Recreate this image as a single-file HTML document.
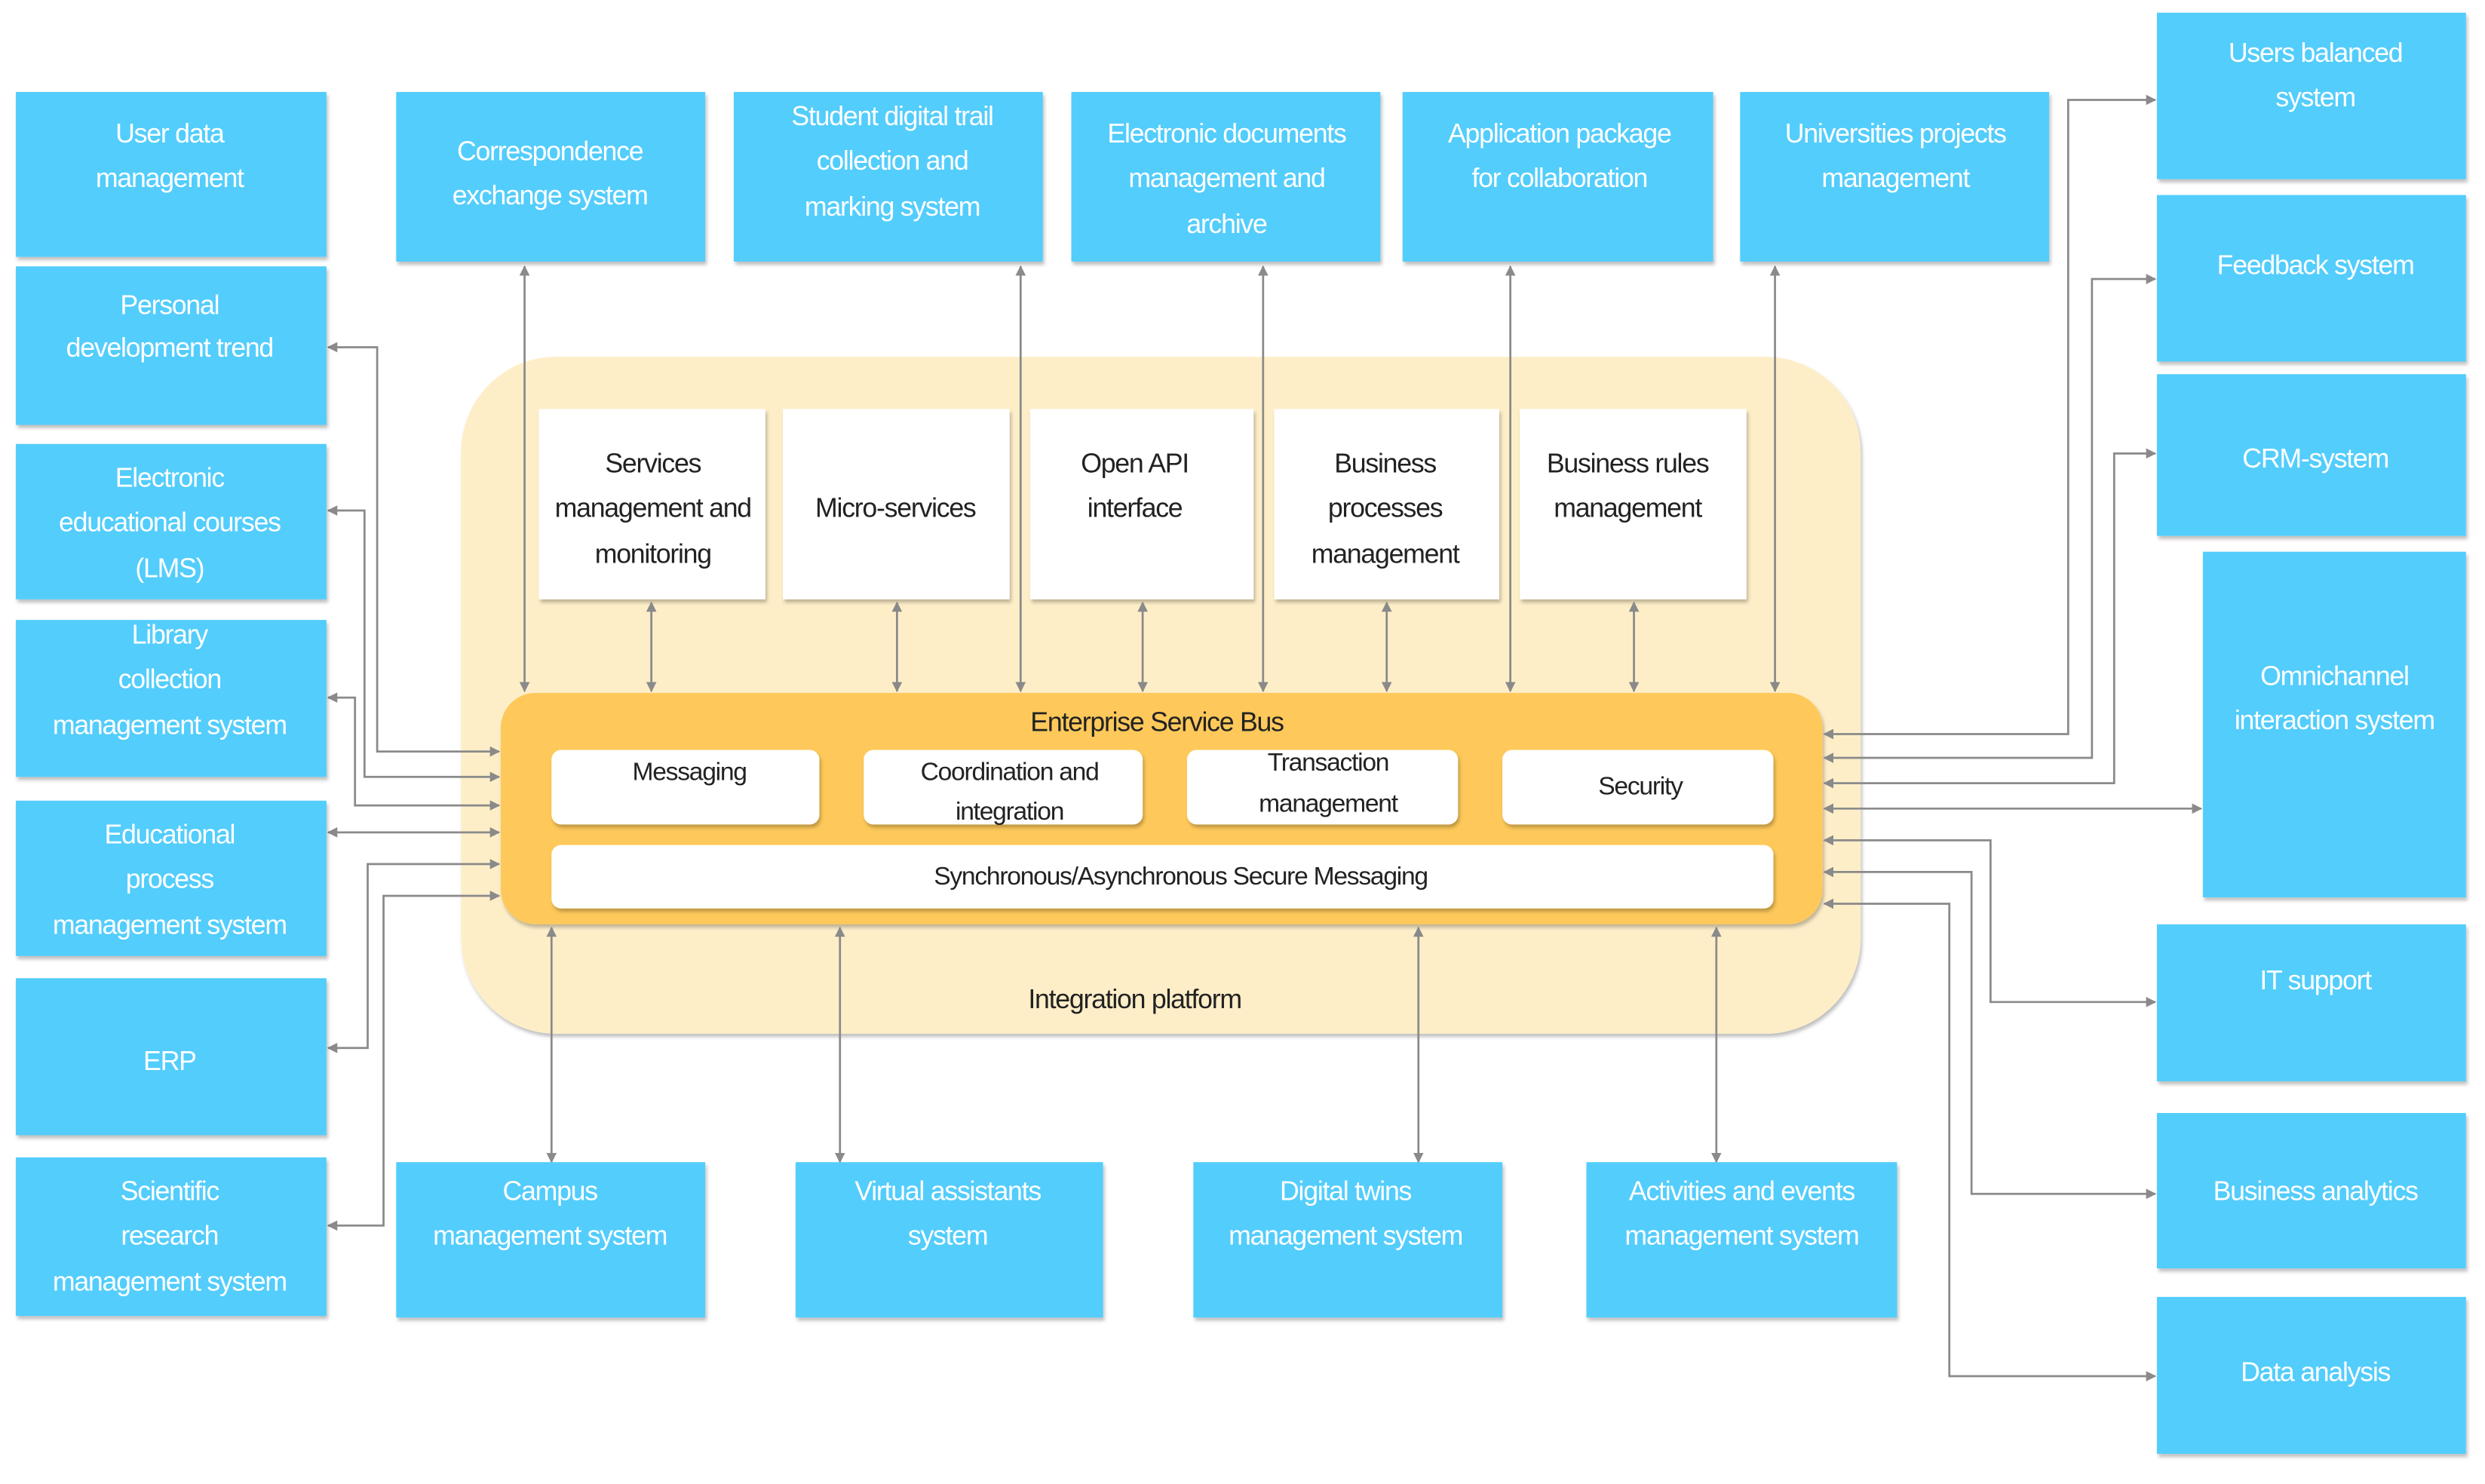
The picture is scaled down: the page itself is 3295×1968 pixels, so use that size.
<!DOCTYPE html>
<html><head><meta charset="utf-8"><style>
html,body{margin:0;padding:0;background:#fff}
svg{display:block}
text{font-family:"Liberation Sans",sans-serif}
.b{fill:#53cdfc}
.bt{fill:#fff;font-size:17px;text-anchor:middle;letter-spacing:-0.6px}
.dt{fill:#222;font-size:17px;text-anchor:middle;letter-spacing:-0.6px}
.st{fill:#222;font-size:16px;text-anchor:middle;letter-spacing:-0.6px}
.l{stroke:#8a8a8a;stroke-width:1.3;fill:none}
</style></head><body>
<svg width="3295" height="1968" viewBox="0 0 1568 936" preserveAspectRatio="none" xmlns="http://www.w3.org/2000/svg">
<defs>
<marker id="a" viewBox="0 0 10 10" refX="9" refY="5" markerWidth="5" markerHeight="5" orient="auto-start-reverse"><path d="M0,0 L10,5 L0,10 z" fill="#8a8a8a"/></marker>
<filter id="sh" x="-5%" y="-5%" width="110%" height="115%"><feDropShadow dx="1" dy="2" stdDeviation="1.2" flood-color="#000" flood-opacity="0.25"/></filter>
</defs>
<rect width="1568" height="936" fill="#fff"/>
<!-- integration platform -->
<rect x="291" y="225" width="883" height="427" rx="60" fill="#feeec8" filter="url(#sh)"/>
<text x="716" y="636" class="dt">Integration platform</text>
<!-- white service boxes -->
<g filter="url(#sh)" fill="#fff">
<rect x="340" y="258" width="143" height="120"/><rect x="494" y="258" width="143" height="120"/>
<rect x="650" y="258" width="141" height="120"/><rect x="804" y="258" width="142" height="120"/>
<rect x="959" y="258" width="143" height="120"/>
</g>
<text class="dt"><tspan x="412" y="298">Services</tspan><tspan x="412" y="326">management and</tspan><tspan x="412" y="355">monitoring</tspan></text>
<text class="dt" x="565" y="326">Micro-services</text>
<text class="dt"><tspan x="716" y="298">Open API</tspan><tspan x="716" y="326">interface</tspan></text>
<text class="dt"><tspan x="874" y="298">Business</tspan><tspan x="874" y="326">processes</tspan><tspan x="874" y="355">management</tspan></text>
<text class="dt"><tspan x="1027" y="298">Business rules</tspan><tspan x="1027" y="326">management</tspan></text>
<!-- ESB -->
<rect x="316" y="437" width="834" height="146" rx="22" fill="#fec95a" filter="url(#sh)"/>
<text class="dt" x="730" y="461">Enterprise Service Bus</text>
<g fill="#fff" filter="url(#sh)">
<rect x="348" y="473" width="169" height="47" rx="6"/><rect x="545" y="473" width="176" height="47" rx="6"/>
<rect x="749" y="473" width="171" height="47" rx="6"/><rect x="948" y="473" width="171" height="47" rx="6"/>
<rect x="348" y="533" width="771" height="40" rx="6"/>
</g>
<text class="st" x="435" y="492">Messaging</text>
<text class="st"><tspan x="637" y="492">Coordination and</tspan><tspan x="637" y="517">integration</tspan></text>
<text class="st"><tspan x="838" y="486">Transaction</tspan><tspan x="838" y="512">management</tspan></text>
<text class="st" x="1035" y="501">Security</text>
<text class="st" x="745" y="558">Synchronous/Asynchronous Secure Messaging</text>
<!-- connectors -->
<g class="l" marker-start="url(#a)" marker-end="url(#a)">
<line x1="331" y1="168" x2="331" y2="436"/><line x1="644" y1="168" x2="644" y2="436"/>
<line x1="797" y1="168" x2="797" y2="436"/><line x1="953" y1="168" x2="953" y2="436"/>
<line x1="1120" y1="168" x2="1120" y2="436"/>
<line x1="411" y1="380" x2="411" y2="436"/><line x1="566" y1="380" x2="566" y2="436"/>
<line x1="721" y1="380" x2="721" y2="436"/><line x1="875" y1="380" x2="875" y2="436"/>
<line x1="1031" y1="380" x2="1031" y2="436"/>
<line x1="348" y1="585" x2="348" y2="733"/><line x1="530" y1="585" x2="530" y2="733"/>
<line x1="895" y1="585" x2="895" y2="733"/><line x1="1083" y1="585" x2="1083" y2="733"/>
<polyline points="207,219 238,219 238,474 315,474"/>
<polyline points="207,322 230,322 230,490 315,490"/>
<polyline points="207,440 224,440 224,508 315,508"/>
<polyline points="207,525 315,525"/>
<polyline points="207,661 232,661 232,545 315,545"/>
<polyline points="207,773 242,773 242,565 315,565"/>
<polyline points="1360,63 1305,63 1305,463 1151,463"/>
<polyline points="1360,176 1320,176 1320,478 1151,478"/>
<polyline points="1360,286 1334,286 1334,494 1151,494"/>
<polyline points="1389,510 1151,510"/>
<polyline points="1360,632 1256,632 1256,530 1151,530"/>
<polyline points="1360,753 1244,753 1244,550 1151,550"/>
<polyline points="1360,868 1230,868 1230,570 1151,570"/>
</g>
<!-- blue boxes -->
<g class="b" filter="url(#sh)">
<rect x="10" y="58" width="196" height="104"/><rect x="10" y="168" width="196" height="100"/>
<rect x="10" y="280" width="196" height="98"/><rect x="10" y="391" width="196" height="99"/>
<rect x="10" y="505" width="196" height="98"/><rect x="10" y="617" width="196" height="99"/>
<rect x="10" y="730" width="196" height="100"/>
<rect x="250" y="58" width="195" height="107"/><rect x="463" y="58" width="195" height="107"/>
<rect x="676" y="58" width="195" height="107"/><rect x="885" y="58" width="196" height="107"/>
<rect x="1098" y="58" width="195" height="107"/>
<rect x="1361" y="8" width="195" height="105"/><rect x="1361" y="123" width="195" height="105"/>
<rect x="1361" y="236" width="195" height="102"/><rect x="1390" y="348" width="166" height="218"/>
<rect x="1361" y="583" width="195" height="99"/><rect x="1361" y="702" width="195" height="98"/>
<rect x="1361" y="818" width="195" height="99"/>
<rect x="250" y="733" width="195" height="98"/><rect x="502" y="733" width="194" height="98"/>
<rect x="753" y="733" width="195" height="98"/><rect x="1001" y="733" width="196" height="98"/>
</g>
<g class="bt">
<text><tspan x="107" y="90">User data</tspan><tspan x="107" y="118">management</tspan></text>
<text><tspan x="107" y="198">Personal</tspan><tspan x="107" y="225">development trend</tspan></text>
<text><tspan x="107" y="307">Electronic</tspan><tspan x="107" y="335">educational courses</tspan><tspan x="107" y="364">(LMS)</tspan></text>
<text><tspan x="107" y="406">Library</tspan><tspan x="107" y="434">collection</tspan><tspan x="107" y="463">management system</tspan></text>
<text><tspan x="107" y="532">Educational</tspan><tspan x="107" y="560">process</tspan><tspan x="107" y="589">management system</tspan></text>
<text x="107" y="675">ERP</text>
<text><tspan x="107" y="757">Scientific</tspan><tspan x="107" y="785">research</tspan><tspan x="107" y="814">management system</tspan></text>
<text><tspan x="347" y="101">Correspondence</tspan><tspan x="347" y="129">exchange system</tspan></text>
<text><tspan x="563" y="79">Student digital trail</tspan><tspan x="563" y="107">collection and</tspan><tspan x="563" y="136">marking system</tspan></text>
<text><tspan x="774" y="90">Electronic documents</tspan><tspan x="774" y="118">management and</tspan><tspan x="774" y="147">archive</tspan></text>
<text><tspan x="984" y="90">Application package</tspan><tspan x="984" y="118">for collaboration</tspan></text>
<text><tspan x="1196" y="90">Universities projects</tspan><tspan x="1196" y="118">management</tspan></text>
<text><tspan x="1461" y="39">Users balanced</tspan><tspan x="1461" y="67">system</tspan></text>
<text x="1461" y="173">Feedback system</text>
<text x="1461" y="295">CRM-system</text>
<text><tspan x="1473" y="432">Omnichannel</tspan><tspan x="1473" y="460">interaction system</tspan></text>
<text x="1461" y="624">IT support</text>
<text x="1461" y="757">Business analytics</text>
<text x="1461" y="871">Data analysis</text>
<text><tspan x="347" y="757">Campus</tspan><tspan x="347" y="785">management system</tspan></text>
<text><tspan x="598" y="757">Virtual assistants</tspan><tspan x="598" y="785">system</tspan></text>
<text><tspan x="849" y="757">Digital twins</tspan><tspan x="849" y="785">management system</tspan></text>
<text><tspan x="1099" y="757">Activities and events</tspan><tspan x="1099" y="785">management system</tspan></text>
</g>
</svg>
</body></html>
